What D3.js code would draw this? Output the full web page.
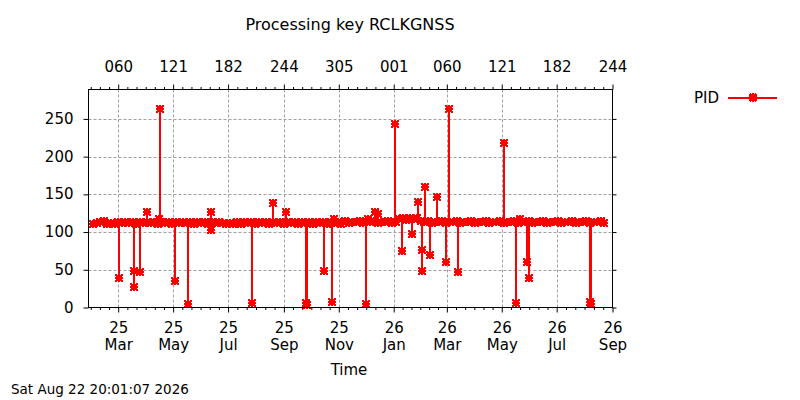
<!DOCTYPE html>
<html>
<head>
<meta charset="utf-8">
<script src="https://cdn.jsdelivr.net/npm/d3@7"></script>
<style>
  body { margin: 0; background: #fff; }
  text { font-family: "DejaVu Sans", sans-serif; fill: #000; }
</style>
</head>
<body>
<div id="chart"></div>
<script>
// ---- data ----
const chartTitle = "Processing key RCLKGNSS";
const seriesName = "PID";
const xLabel = "Time";
const stamp = "Sat Aug 22 20:01:07 2026";

const xDomain = ["2025-01-27", "2026-09-01"];
const xTickDates = ["2025-03-01", "2025-05-01", "2025-07-01", "2025-09-01", "2025-11-01",
                    "2026-01-01", "2026-03-01", "2026-05-01", "2026-07-01", "2026-09-01"];
const yMax = 289;
const yTicks = [0, 50, 100, 150, 200, 250];

// regular samples of the baseline, one every 4 days from baseStart
const baseStart = "2025-02-01";
const baseStepDays = 4;
const baseValues = [
  111, 112, 114, 115, 111, 112, 111, 113, 112, 114,
  112, 113, 111, 114, 112, 113, 112, 114, 111, 113,
  112, 114, 111, 113, 112, 114, 112, 113, 111, 114,
  112, 113, 111, 114, 112, 113, 112, 111, 112, 111,
  113, 111, 114, 112, 113, 111, 114, 112, 113, 111,
  114, 112, 113, 111, 114, 112, 113, 111, 114, 112,
  113, 111, 114, 112, 113, 111, 114, 112, 113, 111,
  115, 112, 114, 113, 115, 112, 114, 113, 115, 112,
  114, 113, 115, 112, 114, 117, 118, 116, 118, 117,
  118, 115, 113, 115, 112, 114, 113, 115, 112, 114,
  113, 115, 112, 114, 113, 115, 112, 114, 113, 115,
  112, 114, 113, 115, 112, 114, 113, 115, 112, 114,
  113, 115, 112, 114, 113, 115, 112, 114, 113, 115,
  112, 114, 113, 115, 112, 114, 113, 115, 112, 114,
  113, 115, 112
];

// excursions away from the baseline
const spikeDates = [
  "2025-03-02", "2025-03-19", "2025-03-19", "2025-03-25", "2025-04-02",
  "2025-04-15", "2025-04-16", "2025-05-03", "2025-05-18", "2025-06-12",
  "2025-06-12", "2025-07-28", "2025-08-20", "2025-09-03", "2025-09-26",
  "2025-09-27", "2025-10-16", "2025-10-24", "2025-10-27", "2025-12-01",
  "2025-12-03", "2025-12-11", "2025-12-14", "2026-01-02", "2026-01-10",
  "2026-01-21", "2026-01-28", "2026-02-01", "2026-02-01", "2026-02-05",
  "2026-02-10", "2026-02-18", "2026-02-28", "2026-03-03", "2026-03-13",
  "2026-05-04", "2026-05-17", "2026-05-21", "2026-05-29", "2026-05-31",
  "2026-08-07", "2026-08-08"
];
const spikeValues = [
  39, 27, 48, 47, 126,
  117, 263, 35, 5, 126,
  103, 6, 139, 126, 6,
  3, 49, 7, 117, 5,
  117, 126, 124, 243, 75,
  97, 140, 76, 48, 160,
  69, 147, 60, 263, 47,
  218, 6, 117, 60, 39,
  7, 5
];

// ---- layout ----
const width = 800, height = 400;
const plot = {left: 88.5, right: 612.5, top: 89.5, bottom: 307.5};
const red = "#ff0000";
const fontSize = 15;

const parse = d3.utcParse("%Y-%m-%d");

const base = baseValues.map((v, i) => ({
  t: d3.utcDay.offset(parse(baseStart), i * baseStepDays),
  v: v
}));
const spikes = spikeDates.map((d, i) => ({t: parse(d), v: spikeValues[i]}));
// baseline level the excursion leaves from
const bis = d3.bisector(d => d.t).right;
spikes.forEach(s => {
  const i = Math.max(0, bis(base, s.t) - 1);
  s.from = base[i].v;
});

const svg = d3.select("#chart").append("svg")
    .attr("width", width)
    .attr("height", height)
    .style("font-size", fontSize + "px");

const x = d3.scaleUtc()
    .domain(xDomain.map(parse))
    .range([plot.left, plot.right]);

const y = d3.scaleLinear()
    .domain([0, yMax])
    .range([plot.bottom, plot.top]);

const majors = xTickDates.map(parse);

// minor ticks: six steps between majors
const minors = [];
for (let i = 0; i < majors.length - 1; i++) {
  const a = +majors[i], b = +majors[i + 1];
  for (let k = 1; k < 6; k++) minors.push(new Date(a + k * (b - a) / 6));
}
{
  const step = (majors[1] - majors[0]) / 6;
  for (let k = 1; ; k++) {
    const t = +majors[0] - k * step;
    if (t < +x.domain()[0]) break;
    minors.push(new Date(t));
  }
}

// grid
const grid = svg.append("g")
    .attr("stroke", "#a0a0a0")
    .attr("stroke-width", 1)
    .attr("stroke-dasharray", "3,2");

grid.selectAll("line.gx")
  .data(majors.filter(d => x(d) < plot.right - 1))
  .join("line")
    .attr("x1", d => Math.round(x(d)) + 0.5)
    .attr("x2", d => Math.round(x(d)) + 0.5)
    .attr("y1", plot.top)
    .attr("y2", plot.bottom);

grid.selectAll("line.gy")
  .data(yTicks.filter(d => d > 0))
  .join("line")
    .attr("x1", plot.left)
    .attr("x2", plot.right)
    .attr("y1", d => Math.round(y(d)) + 0.5)
    .attr("y2", d => Math.round(y(d)) + 0.5);

// axes
function tidy(g) {
  g.select(".domain").remove();
  g.selectAll("line").attr("stroke", "#000");
  g.attr("font-family", null).attr("font-size", null);
}

const fmtYear = d3.utcFormat("%y");
const fmtMonth = d3.utcFormat("%b");
const fmtDoy = d3.utcFormat("%j");

svg.append("g")
    .attr("transform", `translate(0,${plot.bottom})`)
    .call(d3.axisBottom(x).tickValues(majors).tickSize(5).tickSizeOuter(0).tickFormat(""))
    .call(tidy)
    .call(g => g.selectAll(".tick text").remove())
    .call(g => g.selectAll(".tick").each(function(d) {
      const t = d3.select(this).append("text").attr("text-anchor", "middle");
      t.append("tspan").attr("x", 0).attr("y", 25.5).text(fmtYear(d));
      t.append("tspan").attr("x", 0).attr("y", 42).text(fmtMonth(d));
    }));

svg.append("g")
    .attr("transform", `translate(0,${plot.bottom})`)
    .call(d3.axisBottom(x).tickValues(minors).tickSize(2.5).tickSizeOuter(0).tickFormat(""))
    .call(tidy);

svg.append("g")
    .attr("transform", `translate(0,${plot.top})`)
    .call(d3.axisTop(x).tickValues(majors).tickSize(5).tickSizeOuter(0).tickFormat(fmtDoy))
    .call(tidy)
    .call(g => g.selectAll(".tick text").attr("y", -17.5).attr("dy", null));

svg.append("g")
    .attr("transform", `translate(0,${plot.top})`)
    .call(d3.axisTop(x).tickValues(minors).tickSize(2.5).tickSizeOuter(0).tickFormat(""))
    .call(tidy);

svg.append("g")
    .attr("transform", `translate(${plot.left},0)`)
    .call(d3.axisLeft(y).tickValues(yTicks).tickSize(5).tickSizeOuter(0))
    .call(tidy)
    .call(g => g.selectAll(".tick text").attr("x", -15).attr("dy", "0.3em"));

svg.append("g")
    .attr("transform", `translate(${plot.right},0)`)
    .call(d3.axisRight(y).tickValues(yTicks).tickSize(4).tickSizeOuter(0).tickFormat(""))
    .call(tidy);

// series (drawn without anti-aliasing, like the original raster plot)
// marker: gnuplot-style asterisk, plus and cross overlaid
const marker = "M-3,0H3M0,-3V3M-2.8,-2.8L2.8,2.8M-2.8,2.8L2.8,-2.8";

const line = d3.line()
    .x(d => x(d.t))
    .y(d => y(d.v));

const series = svg.append("g")
    .attr("shape-rendering", "crispEdges");

series.append("path")
    .datum(base)
    .attr("fill", "none")
    .attr("stroke", red)
    .attr("stroke-width", 2)
    .attr("d", line);

series.append("g")
    .attr("stroke", red)
    .attr("stroke-width", 2)
  .selectAll("line")
  .data(spikes)
  .join("line")
    .attr("x1", d => x(d.t))
    .attr("x2", d => x(d.t))
    .attr("y1", d => y(d.from))
    .attr("y2", d => y(d.v));

series.append("g")
    .attr("fill", "none")
    .attr("stroke", red)
    .attr("stroke-width", 2.2)
    .attr("stroke-linecap", "square")
  .selectAll("path")
  .data(base.concat(spikes))
  .join("path")
    .attr("transform", d => `translate(${Math.round(x(d.t))},${Math.round(y(d.v))})`)
    .attr("d", marker);

// border
svg.append("rect")
    .attr("x", plot.left)
    .attr("y", plot.top)
    .attr("width", plot.right - plot.left)
    .attr("height", plot.bottom - plot.top)
    .attr("fill", "none")
    .attr("stroke", "#000")
    .attr("stroke-width", 1);

// texts
svg.append("text")
    .attr("x", 350)
    .attr("y", 30)
    .attr("text-anchor", "middle")
    .style("font-size", "16px")
    .text(chartTitle);

svg.append("text")
    .attr("x", 349)
    .attr("y", 375)
    .attr("text-anchor", "middle")
    .text(xLabel);

svg.append("text")
    .attr("x", 11)
    .attr("y", 394)
    .style("font-size", "13.5px")
    .text(stamp);

// legend
const legend = svg.append("g").attr("transform", "translate(0,97.5)");
legend.append("text")
    .attr("x", 719)
    .attr("dy", "0.35em")
    .attr("text-anchor", "end")
    .text(seriesName);
legend.append("line")
    .attr("x1", 728).attr("x2", 777)
    .attr("stroke", red)
    .attr("stroke-width", 2)
    .attr("shape-rendering", "crispEdges");
legend.append("path")
    .attr("transform", "translate(753,0)")
    .attr("d", marker)
    .attr("fill", "none")
    .attr("stroke", red)
    .attr("stroke-width", 2.2)
    .attr("stroke-linecap", "square")
    .attr("shape-rendering", "crispEdges");
</script>
</body>
</html>
